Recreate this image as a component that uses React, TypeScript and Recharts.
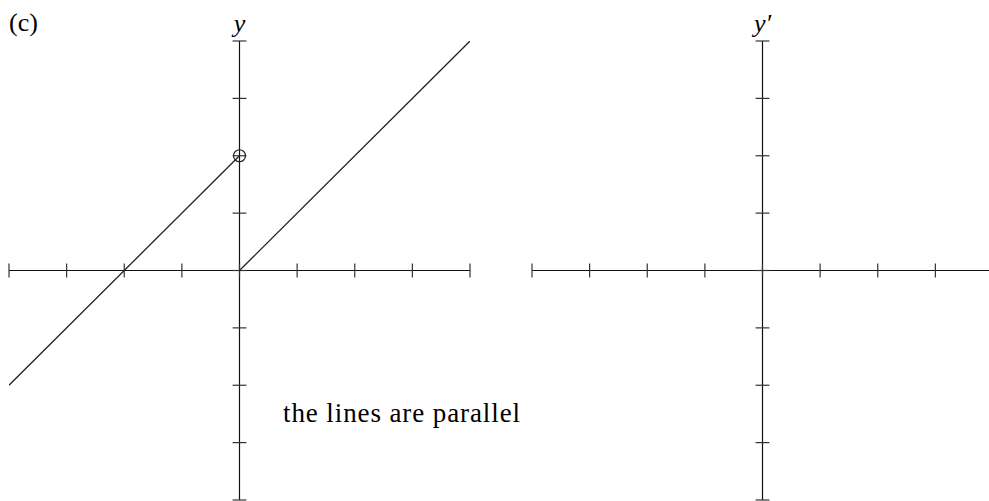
import { LineChart, Line, XAxis, YAxis, ReferenceLine, ReferenceDot } from 'recharts';
import type { ReactNode } from 'react';

// axis tick positions (same on both panels)
const X_TICKS = [-4, -3, -2, -1, 0, 1, 2, 3, 4];
const Y_TICKS = [-4, -3, -2, -1, 0, 1, 2, 3, 4];

// y = x + 2 on [-4, 0), open end at (0, 2)
const LEFT_BRANCH = [
  { x: -4, y: -2 },
  { x: 0, y: 2 },
];
// y = x on [0, 4]
const RIGHT_BRANCH = [
  { x: 0, y: 0 },
  { x: 4, y: 4 },
];
const HOLE = { x: 0, y: 2 };

const TICK_HALF = 0.12;
const AXIS_COLOR = '#111';
const TICK_COLOR = '#333';
const CURVE_COLOR = '#222';
const SERIF = '"Liberation Serif", serif';

const CHART_W = 490;
const CHART_H = 520;
const MARGIN = { top: 41, right: 20, bottom: 20, left: 9 };

function Panel({ yLabel, children }: { yLabel: string; children?: ReactNode }) {
  return (
    <LineChart width={CHART_W} height={CHART_H} margin={MARGIN}>
      <XAxis type="number" dataKey="x" domain={[-4, 4]} ticks={X_TICKS} hide allowDataOverflow />
      <YAxis type="number" dataKey="y" domain={[-4, 4]} ticks={Y_TICKS} hide allowDataOverflow />
      <ReferenceLine y={0} stroke={AXIS_COLOR} strokeWidth={1.2} ifOverflow="visible" />
      <ReferenceLine
        x={0}
        stroke={AXIS_COLOR}
        strokeWidth={1.2}
        ifOverflow="visible"
        label={{
          value: yLabel,
          position: 'top',
          offset: 9,
          fontSize: 26,
          fontFamily: SERIF,
          fontStyle: 'italic',
          fill: '#000',
        }}
      />
      {X_TICKS.map((t) => (
        <ReferenceLine
          key={`xt${t}`}
          segment={[
            { x: t, y: -TICK_HALF },
            { x: t, y: TICK_HALF },
          ]}
          stroke={TICK_COLOR}
          strokeWidth={1.2}
          ifOverflow="visible"
        />
      ))}
      {Y_TICKS.map((t) => (
        <ReferenceLine
          key={`yt${t}`}
          segment={[
            { x: -TICK_HALF, y: t },
            { x: TICK_HALF, y: t },
          ]}
          stroke={TICK_COLOR}
          strokeWidth={1.2}
          ifOverflow="visible"
        />
      ))}
      {children}
    </LineChart>
  );
}

export default function App() {
  return (
    <div
      style={{
        position: 'absolute',
        left: 0,
        top: 0,
        width: 989,
        height: 501,
        overflow: 'hidden',
        background: '#fff',
        fontFamily: SERIF,
      }}
    >
      <div style={{ position: 'absolute', left: 0, top: 0 }}>
        <Panel yLabel="y">
          <Line
            data={LEFT_BRANCH}
            dataKey="y"
            type="linear"
            stroke={CURVE_COLOR}
            strokeWidth={1.3}
            dot={false}
            activeDot={false}
            isAnimationActive={false}
          />
          <Line
            data={RIGHT_BRANCH}
            dataKey="y"
            type="linear"
            stroke={CURVE_COLOR}
            strokeWidth={1.3}
            dot={false}
            activeDot={false}
            isAnimationActive={false}
          />
          <ReferenceDot
            x={HOLE.x}
            y={HOLE.y}
            r={6}
            fill="none"
            stroke={CURVE_COLOR}
            strokeWidth={1.2}
            ifOverflow="visible"
          />
        </Panel>
      </div>
      <div style={{ position: 'absolute', left: 523, top: 0 }}>
        <Panel yLabel="y′" />
      </div>
      <div style={{ position: 'absolute', left: 9, top: 10, fontSize: 26, lineHeight: 1 }}>(c)</div>
      <div
        style={{
          position: 'absolute',
          left: 283,
          top: 400,
          fontSize: 27,
          lineHeight: 1,
          letterSpacing: 0.9,
          whiteSpace: 'nowrap',
        }}
      >
        the lines are parallel
      </div>
    </div>
  );
}
